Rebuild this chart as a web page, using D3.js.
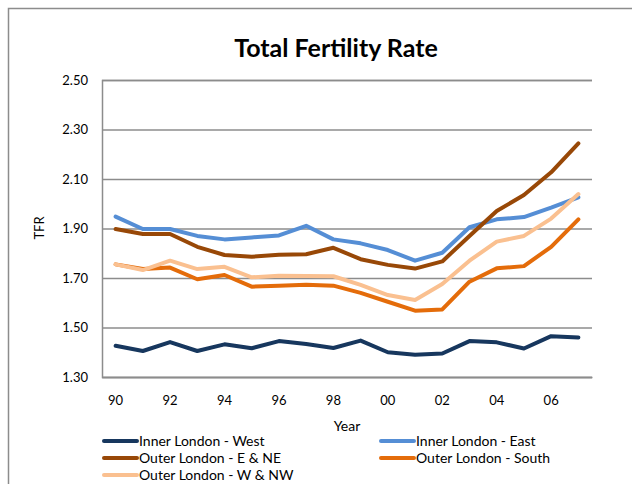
<!DOCTYPE html>
<html>
<head>
<meta charset="utf-8">
<script src="https://cdn.jsdelivr.net/npm/d3@7"></script>
<style>
  body { margin: 0; background: #fff; }
  text { font-family: Lato, "Open Sans", sans-serif; fill: #000; }
</style>
</head>
<body>
<script>
// data
var years = d3.range(1990, 2008);
var yTicks = [1.30, 1.50, 1.70, 1.90, 2.10, 2.30, 2.50];
var xTickYears = [1990, 1992, 1994, 1996, 1998, 2000, 2002, 2004, 2006];

var innerWest  = [1.426, 1.405, 1.441, 1.405, 1.432, 1.416, 1.445, 1.433, 1.417, 1.447, 1.400, 1.390, 1.395, 1.445, 1.440, 1.415, 1.465, 1.460];
var innerEast  = [1.948, 1.898, 1.898, 1.870, 1.856, 1.864, 1.872, 1.911, 1.856, 1.840, 1.813, 1.770, 1.802, 1.905, 1.937, 1.946, 1.984, 2.026];
var outerENE   = [1.898, 1.878, 1.878, 1.826, 1.793, 1.786, 1.794, 1.796, 1.822, 1.776, 1.753, 1.738, 1.767, 1.870, 1.971, 2.035, 2.127, 2.244];
var outerSouth = [1.755, 1.736, 1.742, 1.695, 1.712, 1.665, 1.669, 1.673, 1.669, 1.640, 1.604, 1.568, 1.573, 1.685, 1.739, 1.748, 1.826, 1.937];
var outerWNW   = [1.755, 1.732, 1.770, 1.736, 1.745, 1.703, 1.709, 1.708, 1.707, 1.672, 1.631, 1.611, 1.676, 1.770, 1.847, 1.870, 1.940, 2.039];

var series = [
  {name: "Inner London - West",  values: innerWest,  color: "#17375E"},
  {name: "Inner London - East",  values: innerEast,  color: "#558ED5"},
  {name: "Outer London - E & NE", values: outerENE,  color: "#984807"},
  {name: "Outer London - South", values: outerSouth, color: "#E46C0A"},
  {name: "Outer London - W & NW", values: outerWNW,  color: "#FAC090"}
];

var W = 632, H = 484;
var plot = {left: 102, right: 592, top: 80, bottom: 377};

var svg = d3.select("body").append("svg")
    .attr("width", W)
    .attr("height", H);

// chart frame
svg.append("rect")
    .attr("x", 8.5).attr("y", 8.5)
    .attr("width", W + 20).attr("height", H + 20)
    .attr("fill", "none")
    .attr("stroke", "#8c8c8c")
    .attr("stroke-width", 1.5);

var x = d3.scaleBand()
    .domain(years)
    .range([plot.left, plot.right])
    .padding(0);

var y = d3.scaleLinear()
    .domain([1.3, 2.5])
    .range([plot.bottom, plot.top]);

// gridlines + y labels
var yAxis = d3.axisLeft(y)
    .tickValues(yTicks)
    .tickSize(-(plot.right - plot.left))
    .tickPadding(14)
    .tickFormat(d3.format(".2f"));

var gy = svg.append("g")
    .attr("transform", "translate(" + plot.left + ",0)")
    .call(yAxis);
gy.select(".domain").attr("stroke", "#8c8c8c").attr("stroke-width", 1.5);
gy.selectAll(".tick line").attr("stroke", "#8c8c8c").attr("stroke-width", 1.5);
gy.selectAll(".tick text").style("font-size", "13px").style("font-family", "Lato, sans-serif");

// x axis
var xAxis = d3.axisBottom(x)
    .tickValues(xTickYears)
    .tickSize(0)
    .tickPadding(19)
    .tickFormat(function(d) { return String(d).slice(2); });

var gx = svg.append("g")
    .attr("transform", "translate(0," + plot.bottom + ")")
    .call(xAxis);
gx.select(".domain").attr("stroke", "#8c8c8c").attr("stroke-width", 1.5);
gx.selectAll(".tick text").style("font-size", "13px").style("font-family", "Lato, sans-serif");

// lines
var line = d3.line()
    .x(function(d, i) { return x(years[i]) + x.bandwidth() / 2; })
    .y(function(d) { return y(d); });

svg.append("g").selectAll("path")
    .data(series)
  .enter().append("path")
    .attr("d", function(d) { return line(d.values); })
    .attr("fill", "none")
    .attr("stroke", function(d) { return d.color; })
    .attr("stroke-width", 4)
    .attr("stroke-linejoin", "round")
    .attr("stroke-linecap", "round");

// titles
svg.append("text")
    .attr("x", 336).attr("y", 57)
    .attr("text-anchor", "middle")
    .style("font-size", "25px")
    .style("font-weight", "bold")
    .text("Total Fertility Rate");

svg.append("text")
    .attr("text-anchor", "middle")
    .attr("transform", "translate(44,228)rotate(-90)")
    .style("font-size", "13px")
    .text("TFR");

svg.append("text")
    .attr("x", 347).attr("y", 431)
    .attr("text-anchor", "middle")
    .style("font-size", "14px")
    .text("Year");

// legend
var legendPos = [[104, 441], [381, 441], [104, 458], [381, 458], [104, 475]];

var lg = svg.append("g").selectAll("g")
    .data(series)
  .enter().append("g")
    .attr("transform", function(d, i) { return "translate(" + legendPos[i][0] + "," + legendPos[i][1] + ")"; });

lg.append("line")
    .attr("x1", 0).attr("x2", 33)
    .attr("y1", 0).attr("y2", 0)
    .attr("stroke", function(d) { return d.color; })
    .attr("stroke-width", 4)
    .attr("stroke-linecap", "round");

lg.append("text")
    .attr("x", 35).attr("y", 5)
    .style("font-size", "14px")
    .text(function(d) { return d.name; });
</script>
</body>
</html>
